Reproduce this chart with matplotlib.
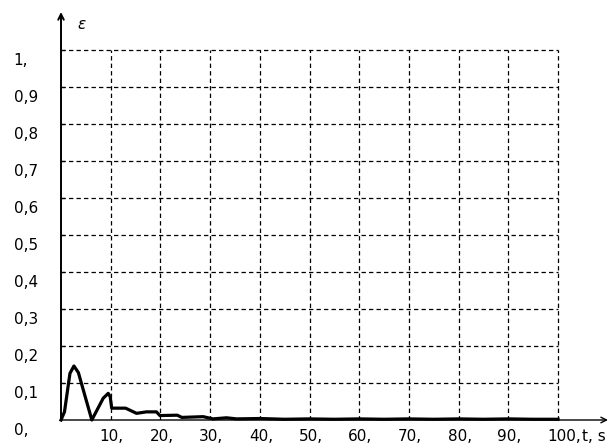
import numpy as np
import matplotlib.pyplot as plt

# curve
t = [0, 0.7, 1.8, 2.6, 3.5, 6.2, 8.5, 9.5, 9.9, 10.2, 13.0, 15.2, 17.2, 19.2, 19.9,
     23.4, 24.3, 28.6, 30.6, 33.3, 35.3, 40, 45, 50, 55, 60, 65, 70, 75, 80, 85,
     90, 95, 100]
eps = [0, 0.022, 0.126, 0.146, 0.128, 0, 0.059, 0.072, 0.063, 0.032, 0.032, 0.018,
       0.022, 0.022, 0.012, 0.013, 0.007, 0.009, 0.003, 0.006, 0.003, 0.004, 0.002,
       0.003, 0.002, 0.003, 0.002, 0.003, 0.002, 0.003, 0.002, 0.003, 0.002, 0.002]

xticks = [10, 20, 30, 40, 50, 60, 70, 80, 90, 100]
xlabels = ['10,', '20,', '30,', '40,', '50,', '60,', '70,', '80,', '90,', '100,']
yticks = [0, 0.1, 0.2, 0.3, 0.4, 0.5, 0.6, 0.7, 0.8, 0.9, 1.0]
ylabels = ['0,', '0,1', '0,2', '0,3', '0,4', '0,5', '0,6', '0,7', '0,8', '0,9', '1,']

plt.rcParams['font.family'] = ['DejaVu Sans']

W, H = 612, 448
fig = plt.figure(figsize=(W/100, H/100), dpi=100)
ax = fig.add_axes([61/W, (H-420)/H, (608-61)/W, (420-12)/H])
xmax = (608-61)/4.97
ymax = (420-12)/370
ax.set_xlim(0, xmax)
ax.set_ylim(0, ymax)
ax.axis('off')

dash = (0, (3.5, 2.5))
for x in xticks:
    ax.plot([x, x], [0, 1], color='black', lw=0.9, ls=dash)
for y in yticks[1:]:
    ax.plot([0, 100], [y, y], color='black', lw=0.9, ls=dash)
    ax.plot([-0.6, 0.6], [y, y], color='black', lw=0.9)

# axes with arrows
ax.annotate('', xy=(xmax, 0), xytext=(0, 0),
            arrowprops=dict(arrowstyle='->', color='black', lw=1, shrinkA=0, shrinkB=0),
            annotation_clip=False)
ax.annotate('', xy=(0, ymax), xytext=(0, 0),
            arrowprops=dict(arrowstyle='->', color='black', lw=1.4, shrinkA=0, shrinkB=0),
            annotation_clip=False)

ax.plot(t, eps, color='black', lw=2.3, clip_on=False)

fs = 11
for x, lab in zip(xticks, xlabels):
    ax.text(x - 2.2, -0.057, lab, ha='left', va='baseline', fontsize=fs, clip_on=False)
ax.text(104.9, -0.057, 't, s', ha='left', va='baseline', fontsize=fs, clip_on=False)

for y, lab in zip(yticks, ylabels):
    ax.text(-9.5, y - 0.041, lab, ha='left', va='baseline', fontsize=fs, clip_on=False)

ax.text(3.3, 1.09, r'$\varepsilon$', ha='left', va='top', fontsize=11, clip_on=False)

fig.savefig('out.png', dpi=100)
